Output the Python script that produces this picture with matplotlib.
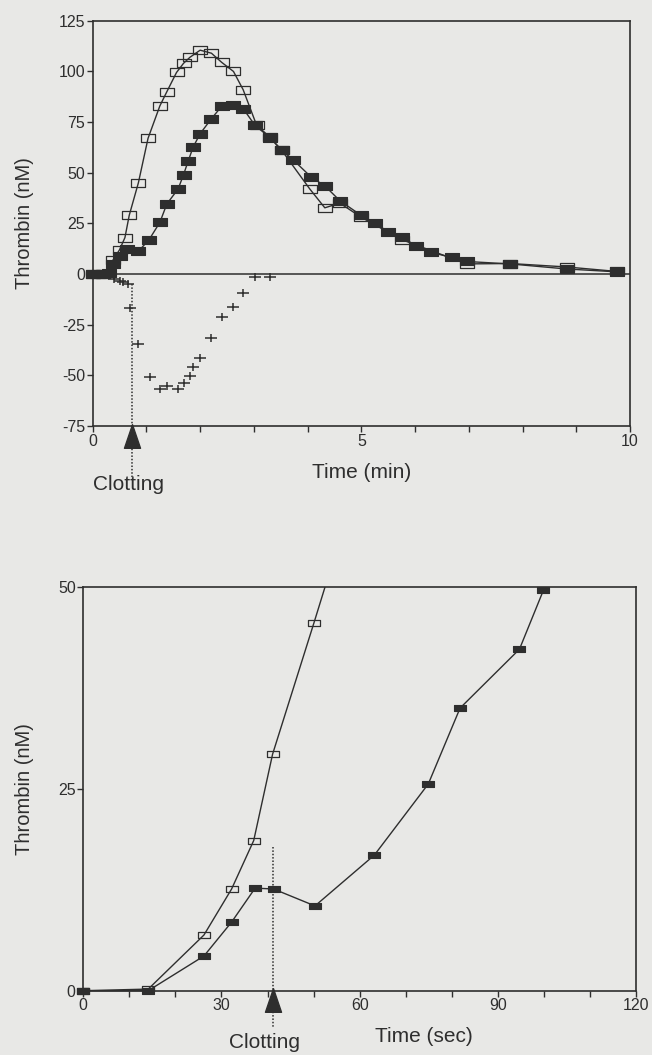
import matplotlib
matplotlib.use("Agg")
import matplotlib.pyplot as plt
from matplotlib.path import Path

plt.rcParams['font.family'] = ['Liberation Sans', 'DejaVu Sans']
plt.rcParams['axes.unicode_minus'] = False

# ---------------- data: top panel (minutes, nM) ----------------
top_open_t = [0.0, 0.2, 0.38, 0.5, 0.6, 0.68, 0.85, 1.03, 1.25, 1.38, 1.56, 1.69, 1.81,
              2.0, 2.21, 2.4, 2.62, 2.8, 3.05, 3.3, 3.52, 4.04, 4.32, 4.6, 5.0, 5.75,
              6.96, 7.77, 8.82, 9.75]
top_open_y = [0, 0, 7, 12, 18, 29, 45, 67, 83, 90, 99.5, 104, 107,
              110.5, 109, 104.5, 100, 91, 73.5, 67.5, 61, 42, 32.7, 35, 28, 17,
              5, 5.2, 3.5, 1.3]

top_fill_t = [0.0, 0.1, 0.2, 0.3, 0.38, 0.5, 0.63, 0.85, 1.05, 1.25, 1.38, 1.59, 1.69,
              1.78, 1.87, 2.0, 2.21, 2.4, 2.62, 2.8, 3.02, 3.3, 3.52, 3.73, 4.06, 4.33,
              4.6, 5.0, 5.25, 5.5, 5.76, 6.02, 6.3, 6.68, 6.96, 7.77, 8.82, 9.75]
top_fill_y = [0, 0, 0, 0.5, 5, 9, 12.4, 11.2, 17, 25.5, 34.6, 42, 49,
              56, 62.7, 69.3, 76.7, 82.8, 83.3, 81.7, 73.4, 67.3, 61, 56.4, 48, 43.3,
              36.2, 28.9, 25, 21, 18.5, 13.6, 10.7, 8.2, 6.2, 5, 2.5, 1.1]

top_diff_t = [0.0, 0.08, 0.16, 0.24, 0.32, 0.4, 0.5, 0.57, 0.66, 0.7, 0.85, 1.07, 1.25,
              1.38, 1.59, 1.69, 1.81, 1.87, 2.0, 2.21, 2.4, 2.62, 2.8, 3.02, 3.3]
top_diff_y = [0, 0, 0, 0, -0.5, -2.5, -3.5, -4.1, -5, -16.8, -34.7, -50.7, -56.9,
              -55.3, -56.9, -53.7, -50.3, -45.7, -41.6, -31.7, -21.1, -16.2, -9.4, -1.3, -1.6]

top_clot_t = 0.74
top_yticks = [-75, -50, -25, 0, 25, 50, 75, 100, 125]
top_xticks = [0, 1, 2, 3, 4, 5, 6, 7, 8, 9, 10]
top_xticklabels = ['0', '', '', '', '', '5', '', '', '', '', '10']

# ---------------- data: bottom panel (seconds, nM) ----------------
bot_open_t = [0, 14.1, 26.2, 32.2, 37.0, 41.1, 50.1, 54.0]
bot_open_y = [0, 0.2, 6.9, 12.6, 18.6, 29.3, 45.6, 52.8]

bot_fill_t = [0, 14.1, 26.2, 32.2, 37.3, 41.3, 50.3, 63.2, 74.9, 81.8, 94.7, 99.9]
bot_fill_y = [0, 0, 4.3, 8.5, 12.7, 12.6, 10.5, 16.8, 25.6, 35, 42.3, 49.6]

bot_clot_t = 41.2
bot_yticks = [0, 25, 50]
bot_xticks = [0, 10, 20, 30, 40, 50, 60, 70, 80, 90, 100, 110, 120]
bot_xticklabels = ['0', '', '', '30', '', '', '60', '', '', '90', '', '', '120']

# ---------------- style ----------------
BG = '#e8e8e6'
INK = '#2e2e2e'

rect_top = Path([(-1, -0.68), (1, -0.68), (1, 0.68), (-1, 0.68), (-1, -0.68)],
                [Path.MOVETO, Path.LINETO, Path.LINETO, Path.LINETO, Path.CLOSEPOLY])
rect_bot = Path([(-1, -0.55), (1, -0.55), (1, 0.55), (-1, 0.55), (-1, -0.55)],
                [Path.MOVETO, Path.LINETO, Path.LINETO, Path.LINETO, Path.CLOSEPOLY])
plus_m = Path([(-1, 0), (1, 0), (0, -0.6), (0, 0.6)],
              [Path.MOVETO, Path.LINETO, Path.MOVETO, Path.LINETO])
tri_m = Path([(-0.34, -0.5), (0.34, -0.5), (0, 0.5), (-0.34, -0.5)],
             [Path.MOVETO, Path.LINETO, Path.LINETO, Path.CLOSEPOLY])

fig = plt.figure(figsize=(6.52, 10.55), dpi=100, facecolor=BG)

def style_axes(ax):
    ax.set_facecolor(BG)
    for s in ax.spines.values():
        s.set_color(INK)
        s.set_linewidth(1.2)
    ax.tick_params(direction='out', length=4, width=1, colors=INK,
                   labelsize=11.5, pad=1.5)

# ---------------- top panel ----------------
ax1 = fig.add_axes([92.7 / 652, 1 - 426 / 1055, (630 - 92.7) / 652, (426 - 20.8) / 1055])
style_axes(ax1)
ax1.set_xlim(0, 10)
ax1.set_ylim(-75, 125)
ax1.axhline(0, color=INK, lw=1.1, zorder=1)
ax1.plot(top_open_t, top_open_y, color=INK, lw=1.0, marker=rect_top, ms=9.5,
         mfc='none', mec=INK, mew=0.9, clip_on=False, zorder=3)
ax1.plot(top_fill_t, top_fill_y, color=INK, lw=1.0, marker=rect_top, ms=9.5,
         mfc=INK, mec=INK, mew=0.8, clip_on=False, zorder=4)
ax1.plot(top_diff_t, top_diff_y, ls='none', marker=plus_m, ms=9, mec=INK, mew=1.1,
         clip_on=False, zorder=4)
ax1.set_yticks(top_yticks)
ax1.set_yticklabels([str(v) for v in top_yticks])
ax1.set_xticks(top_xticks)
ax1.set_xticklabels(top_xticklabels)
ax1.plot([top_clot_t, top_clot_t], [-5, -101], ls=(0, (1, 1.2)), color=INK, lw=1.1,
         clip_on=False, zorder=2)
ax1.plot([top_clot_t], [-79.8], ls='none', marker=tri_m, ms=17, mfc=INK, mec=INK,
         clip_on=False, zorder=5)

# ---------------- bottom panel ----------------
ax2 = fig.add_axes([83.3 / 652, 1 - 990.7 / 1055, (636 - 83.3) / 652, (990.7 - 587) / 1055])
style_axes(ax2)
ax2.set_xlim(0, 120)
ax2.set_ylim(0, 50)
ax2.plot(bot_open_t, bot_open_y, color=INK, lw=1.0, marker=rect_bot, ms=8.5,
         mfc='none', mec=INK, mew=0.9, zorder=3)
ax2.plot(bot_open_t[:1], bot_open_y[:1], ls='none', marker=rect_bot, ms=8.5,
         mfc='none', mec=INK, mew=0.9, clip_on=False, zorder=3)
ax2.plot(bot_fill_t, bot_fill_y, color=INK, lw=1.0, marker=rect_bot, ms=8.5,
         mfc=INK, mec=INK, mew=0.8, clip_on=False, zorder=4)
ax2.set_yticks(bot_yticks)
ax2.set_yticklabels([str(v) for v in bot_yticks])
ax2.set_xticks(bot_xticks)
ax2.set_xticklabels(bot_xticklabels)
ax2.plot([bot_clot_t, bot_clot_t], [17.8, -4.5], ls=(0, (1, 1.2)), color=INK, lw=1.1,
         clip_on=False, zorder=2)
ax2.plot([bot_clot_t], [-1.2], ls='none', marker=tri_m, ms=17, mfc=INK, mec=INK,
         clip_on=False, zorder=5)

# ---------------- labels ----------------
fig.text(24 / 652, 1 - 223.4 / 1055, 'Thrombin (nM)', rotation=90, ha='center',
         va='center', fontsize=14.5, color=INK)
fig.text(24 / 652, 1 - 789 / 1055, 'Thrombin (nM)', rotation=90, ha='center',
         va='center', fontsize=14.5, color=INK)
fig.text(361.7 / 652, 1 - 472 / 1055, 'Time (min)', ha='center', va='center',
         fontsize=15, color=INK)
fig.text(129 / 652, 1 - 485 / 1055, 'Clotting', ha='center', va='center',
         fontsize=15, color=INK)
fig.text(375 / 652, 1 - 1036 / 1055, 'Time (sec)', ha='left', va='center',
         fontsize=15, color=INK)
fig.text(265 / 652, 1 - 1043 / 1055, 'Clotting', ha='center', va='center',
         fontsize=15, color=INK)

fig.savefig('out.png', dpi=100, facecolor=BG)
